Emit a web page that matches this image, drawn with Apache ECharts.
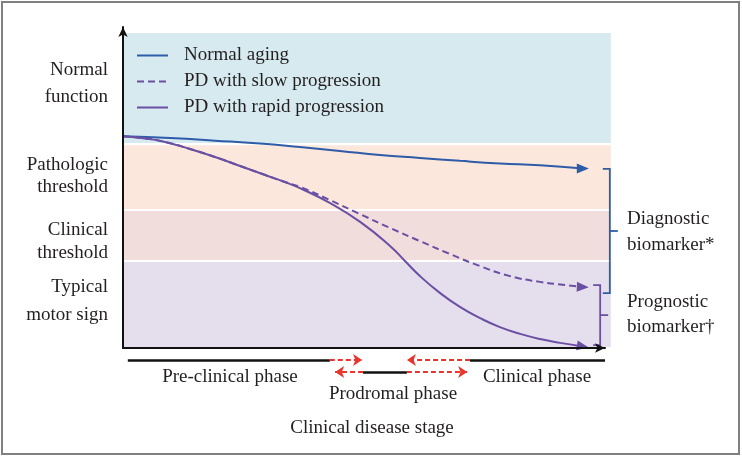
<!DOCTYPE html>
<html>
<head>
<meta charset="utf-8">
<style>
  html, body { margin: 0; padding: 0; background: #ffffff; }
  #chart { width: 742px; height: 458px; }
</style>
<script src="https://cdn.jsdelivr.net/npm/echarts@6/dist/echarts.min.js"></script>
</head>
<body>
<div id="chart"></div>
<script>
// ---- data ----
const seriesNames = ['Normal aging', 'PD with slow progression', 'PD with rapid progression'];

const normalX = [0, 9.8, 19.1, 28.4, 36.7, 45.0, 53.3, 61.6, 69.9, 78.2, 86.5, 95.4];
const normalY = [66.0, 65.4, 64.6, 63.7, 62.6, 61.4, 60.1, 59.2, 58.3, 57.5, 56.9, 55.9];

const slowX = [0, 4.6, 8.7, 13.9, 19.1, 24.3, 29.5, 33.6, 36.7, 42.9, 49.2, 55.4, 61.6, 67.8, 74.1, 80.3, 86.5, 91.7, 95.4];
const slowY = [66.0, 65.3, 64.2, 62.0, 59.5, 56.7, 53.9, 51.7, 50.2, 46.1, 41.7, 37.4, 33.3, 29.3, 25.5, 22.4, 20.6, 19.6, 19.0];

const rapidX = [0, 4.6, 8.7, 13.9, 19.1, 24.3, 29.5, 33.6, 36.7, 42.9, 49.2, 55.4, 58.5, 61.6, 65.8, 69.9, 74.1, 78.2, 82.4, 86.5, 90.7, 95.4];
const rapidY = [66.0, 65.3, 64.2, 62.0, 59.5, 56.7, 53.9, 51.7, 49.8, 45.2, 39.3, 31.8, 27.1, 22.4, 17.1, 12.8, 9.3, 6.5, 4.4, 2.8, 1.6, 0.5];

// functional bands
const bandTop = [98.1, 63.2, 42.7, 26.8];
const bandBottom = [63.9, 43.3, 27.4, 0.3];
const bandRight = 101.2;
const bandLabels = [['Normal', 'function'], ['Pathologic', 'threshold'], ['Clinical', 'threshold'], ['Typical', 'motor sign']];

// biomarker brackets
const bracketX = [101.0, 99.0];
const bracketTop = [55.8, 19.6];
const bracketBottom = [17.1, 0.9];
const bracketLabels = [['Diagnostic', 'biomarker*'], ['Prognostic', 'biomarker\u2020']];

// clinical stage segments (x from, x to, row)
const stageRows = [-3.74, -7.48];
const blackSegs = [[1.0, 42.9, 0], [72.0, 100, 0], [49.8, 58.9, 1]];
const redArrows = [[42.9, 49.6, 0], [72.0, 58.9, 0], [49.8, 44.0, 1], [58.9, 71.4, 1]];
const stageLabels = ['Pre-clinical phase', 'Prodromal phase', 'Clinical phase'];
const axisTitle = 'Clinical disease stage';

// ---- styles ----
const FONT = "'Liberation Serif', 'DejaVu Serif', serif";
const TXT = '#231f20';
const BLUE = '#2e5ca8';
const PURPLE = '#6a4fa3';
const bandColors = ['#d6eaf0', '#fbe7db', '#f2dddd', '#e5dfed'];
const bracketColors = [BLUE, PURPLE];
const RED = '#e8362f';

const zip = (xs, ys) => xs.map((x, i) => [x, ys[i]]);

const chart = echarts.init(document.getElementById('chart'), null, { renderer: 'canvas' });

function lineSeries(name, xs, ys, color, type, rot) {
  return {
    name, type: 'line', data: zip(xs, ys), smooth: 0.5, symbol: 'none', z: 5,
    lineStyle: { color, width: 2, type },
    itemStyle: { color },
    markPoint: {
      symbol: 'triangle', symbolSize: [10, 12], symbolRotate: rot, silent: true,
      itemStyle: { color }, label: { show: false },
      data: [{ coord: [xs[xs.length - 1], ys[ys.length - 1]] }]
    }
  };
}

const textEls = [];
function addText(text, x, y, align) {
  textEls.push({
    type: 'text', silent: true,
    style: { text, x, y, fill: TXT, font: '19px ' + FONT,
      textAlign: align, align: align, textVerticalAlign: 'middle', verticalAlign: 'middle' }
  });
}
// left labels
const leftY = [[70, 97], [165, 187], [230, 253], [287, 315]];
bandLabels.forEach((lines, i) => lines.forEach((t, j) => addText(t, 108, leftY[i][j], 'right')));
// right labels
const rightY = [[219, 245], [302, 327]];
bracketLabels.forEach((lines, i) => lines.forEach((t, j) => addText(t, 627, rightY[i][j], 'left')));
// stage labels
addText(stageLabels[0], 230, 377, 'center');
addText(stageLabels[1], 393, 394, 'center');
addText(stageLabels[2], 537, 377, 'center');
addText(axisTitle, 372, 428, 'center');
// frame
textEls.push({ type: 'rect', silent: true, z: 100,
  shape: { x: 2, y: 2, width: 737, height: 452 },
  style: { fill: 'none', stroke: '#808080', lineWidth: 2 } });

const option = {
  animation: false,
  backgroundColor: '#ffffff',
  grid: { left: 123, right: 137, top: 27, bottom: 110 },
  xAxis: {
    type: 'value', min: 0, max: 100, z: 10,
    axisLine: { show: true, lineStyle: { color: '#111', width: 2 }, symbol: ['none', 'arrow'], symbolSize: [7, 10] },
    axisTick: { show: false }, axisLabel: { show: false }, splitLine: { show: false }
  },
  yAxis: {
    type: 'value', min: 0, max: 100, z: 10,
    axisLine: { show: true, lineStyle: { color: '#111', width: 2 }, symbol: ['none', 'arrow'], symbolSize: [7, 10] },
    axisTick: { show: false }, axisLabel: { show: false }, splitLine: { show: false }
  },
  legend: {
    orient: 'vertical', left: 131, top: 41, itemWidth: 31, itemHeight: 12, itemGap: 7,
    data: seriesNames, selectedMode: false,
    itemStyle: { opacity: 0 },
    textStyle: { fontFamily: FONT, fontSize: 19, color: TXT, padding: [0, 0, 0, 11] }
  },
  graphic: textEls,
  series: [
    {
      type: 'custom', name: 'bands', silent: true, clip: false, z: 1,
      data: bandTop.map((t, i) => [0, t, bandRight, bandBottom[i]]),
      renderItem: (params, api) => {
        const p1 = api.coord([api.value(0), api.value(1)]);
        const p2 = api.coord([api.value(2), api.value(3)]);
        return { type: 'rect', shape: { x: p1[0] + 1, y: p1[1], width: p2[0] - p1[0] - 1, height: p2[1] - p1[1] },
          style: { fill: bandColors[params.dataIndex] } };
      }
    },
    lineSeries(seriesNames[0], normalX, normalY, BLUE, 'solid', -90),
    lineSeries(seriesNames[1], slowX, slowY, PURPLE, [7, 4], -92),
    lineSeries(seriesNames[2], rapidX, rapidY, PURPLE, 'solid', -100),
    {
      type: 'custom', name: 'brackets', silent: true, clip: false, z: 6,
      data: bracketX.map((x, i) => [x, bracketTop[i], bracketBottom[i]]),
      renderItem: (params, api) => {
        const a = api.coord([api.value(0), api.value(1)]);
        const b = api.coord([api.value(0), api.value(2)]);
        const m = (a[1] + b[1]) / 2;
        const st = { stroke: bracketColors[params.dataIndex], lineWidth: 1.8, fill: 'none' };
        return { type: 'group', children: [
          { type: 'polyline', shape: { points: [[a[0] - 7, a[1]], [a[0], a[1]], [b[0], b[1]], [b[0] - 7, b[1]]] }, style: st },
          { type: 'line', shape: { x1: a[0], y1: m, x2: a[0] + 8, y2: m }, style: st }
        ] };
      }
    },
    {
      type: 'lines', coordinateSystem: 'cartesian2d', silent: true, clip: false, z: 6,
      symbol: 'none',
      lineStyle: { color: '#111', width: 2.5, opacity: 1 },
      data: blackSegs.map(s => ({ coords: [[s[0], stageRows[s[2]]], [s[1], stageRows[s[2]]]] }))
    },
    {
      type: 'lines', coordinateSystem: 'cartesian2d', silent: true, clip: false, z: 6,
      symbol: ['none', 'arrow'], symbolSize: 9,
      lineStyle: { color: RED, width: 2, type: [5, 3], opacity: 1 },
      data: redArrows.map(s => ({ coords: [[s[0], stageRows[s[2]]], [s[1], stageRows[s[2]]]] }))
    }
  ]
};
chart.setOption(option);
</script>
</body>
</html>
